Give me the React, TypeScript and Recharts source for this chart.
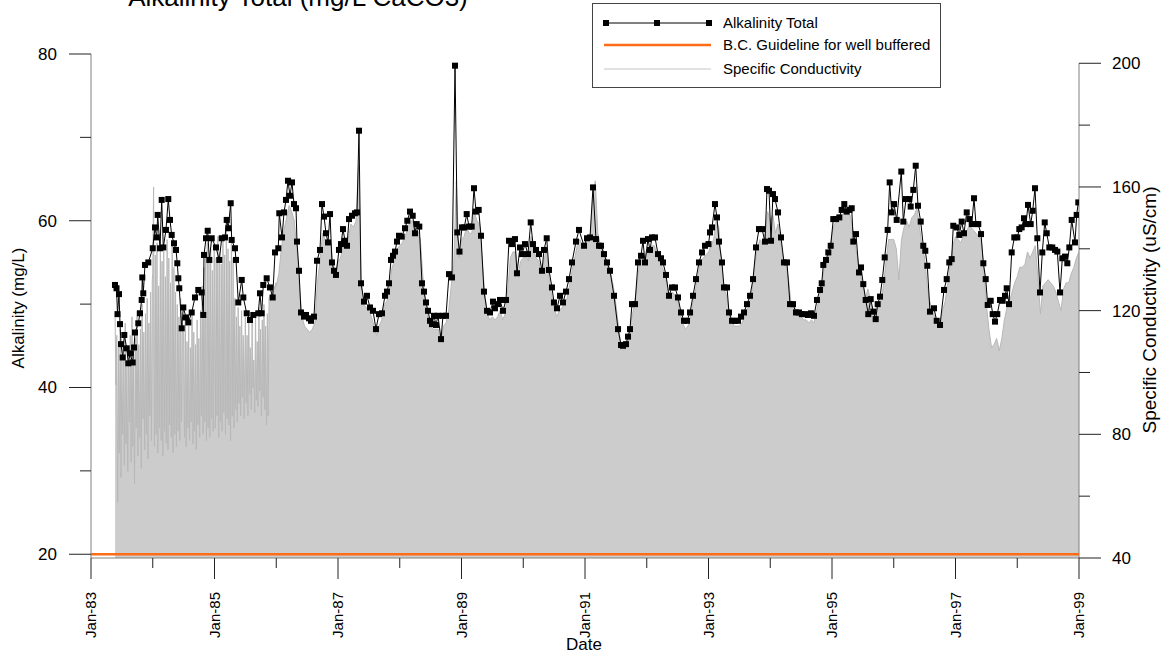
import { ComposedChart, Line, Area, XAxis, YAxis, ReferenceLine } from 'recharts';

// Alkalinity samples per year: [month position (1 = 1 Jan), mg/L]
const alk1983: [number, number][] = [
  [5.66, 52.3], [5.96, 51.9], [6.15, 48.8], [6.44, 51.2], [6.64, 47.6], [6.83, 45.2], [7.16, 43.6],
  [7.47, 46.3], [7.94, 44.7], [8.25, 42.9], [8.58, 44.1], [9.1, 43.0], [9.36, 44.8], [9.55, 46.6],
  [10.19, 47.7], [10.52, 48.9], [10.85, 50.5], [10.97, 53.2], [11.16, 51.3], [11.49, 54.7], [12.13, 55.0],
];
const alk1984: [number, number][] = [
  [1.0, 56.7], [1.44, 59.2], [1.77, 58.0], [1.96, 60.7], [2.41, 56.7], [2.74, 62.5], [3.05, 56.8],
  [3.57, 58.9], [4.02, 62.6], [4.35, 60.1], [4.68, 58.3], [5.13, 57.3], [5.52, 56.5], [5.77, 54.9],
  [5.97, 53.1], [6.16, 51.9], [6.63, 47.1], [6.94, 49.6], [7.46, 48.4], [7.91, 47.8], [8.57, 49.0],
  [9.21, 50.8], [9.85, 51.7], [10.51, 51.4], [10.82, 48.7], [10.96, 55.9], [11.35, 57.9], [11.68, 58.8],
  [11.99, 55.3], [12.46, 57.9],
];
const alk1985: [number, number][] = [
  [1.29, 56.8], [1.93, 55.3], [2.4, 57.9], [3.04, 58.0], [3.37, 60.1], [3.68, 59.1], [4.15, 62.1],
  [4.34, 57.7], [4.98, 56.7], [5.18, 55.3], [5.62, 50.2], [6.29, 52.9], [6.6, 50.8], [7.26, 48.9],
  [7.9, 48.1], [8.54, 48.7], [9.51, 48.9], [9.84, 51.3], [10.17, 48.9], [10.48, 52.3], [11.14, 53.1],
  [11.78, 52.0], [12.31, 50.8], [12.76, 56.2],
];
const alk1986: [number, number][] = [
  [1.4, 56.7], [1.59, 60.9], [2.12, 58.0], [2.51, 61.0], [2.89, 62.5], [3.28, 64.8], [3.67, 63.0],
  [4.06, 64.6], [4.45, 62.0], [4.84, 61.5], [5.03, 57.5], [5.42, 54.0], [5.81, 49.0], [6.39, 48.5],
  [6.78, 48.7], [7.36, 48.3], [7.75, 48.0], [8.33, 48.5], [8.92, 55.2], [9.5, 56.5], [9.89, 62.0],
  [10.28, 60.5], [10.67, 58.5], [11.06, 57.4], [11.45, 60.8], [11.83, 55.0], [12.22, 54.0], [12.61, 53.5],
];
const alk1987: [number, number][] = [
  [1.19, 56.5], [1.58, 57.2], [1.97, 59.0], [2.36, 57.6], [2.75, 57.0], [3.14, 60.2], [3.72, 60.6],
  [4.3, 60.9], [4.69, 61.0], [5.08, 70.8], [5.47, 52.5], [6.05, 50.3], [6.63, 51.0], [7.22, 49.6],
  [7.8, 49.2], [8.38, 47.0], [8.96, 48.8], [9.55, 48.9], [10.13, 51.0], [10.52, 51.5], [10.91, 52.5],
  [11.3, 55.3], [11.69, 55.8], [12.08, 56.3], [12.46, 57.5], [12.85, 58.2],
];
const alk1988: [number, number][] = [
  [1.38, 58.1], [2.02, 59.1], [2.47, 60.0], [2.99, 61.1], [3.52, 60.6], [3.96, 58.5], [4.29, 59.6],
  [4.8, 59.3], [5.32, 52.5], [5.71, 51.5], [6.1, 50.2], [6.49, 49.2], [6.88, 48.0], [7.27, 47.6],
  [7.66, 48.6], [8.04, 47.5], [8.43, 48.6], [9.02, 45.8], [9.4, 48.6], [9.99, 48.6], [10.57, 53.6],
  [11.15, 53.2], [11.74, 78.6], [12.18, 58.6], [12.61, 56.3],
];
const alk1989: [number, number][] = [
  [1.1, 59.2], [1.54, 59.2], [2.01, 60.8], [2.46, 59.3], [2.98, 59.3], [3.43, 63.9], [3.82, 61.1],
  [4.34, 61.3], [4.79, 58.2], [5.37, 51.5], [5.96, 49.2], [6.54, 49.0], [7.12, 50.3], [7.51, 49.5],
  [8.09, 50.0], [8.48, 50.5], [9.06, 49.2], [9.65, 50.5], [10.23, 57.6], [10.81, 57.2], [11.39, 57.8],
  [11.78, 53.7], [12.36, 56.8], [12.75, 56.0],
];
const alk1990: [number, number][] = [
  [1.34, 57.2], [1.92, 56.0], [2.45, 59.8], [2.89, 57.2], [3.48, 56.5], [4.06, 56.0], [4.64, 54.0],
  [5.03, 56.5], [5.56, 57.9], [6.0, 54.1], [6.58, 52.0], [6.97, 50.2], [7.56, 49.5], [8.14, 51.0],
  [8.72, 50.2], [9.31, 51.5], [9.89, 53.0], [10.47, 55.0], [11.25, 57.5], [11.83, 58.9], [12.81, 57.0],
];
const alk1991: [number, number][] = [
  [1.39, 57.9], [1.97, 58.0], [2.55, 64.0], [3.14, 57.8], [3.72, 57.0], [4.11, 57.0], [4.69, 56.0],
  [5.28, 55.0], [5.86, 54.0], [6.64, 51.0], [7.42, 47.0], [8.0, 45.1], [8.38, 45.0], [8.97, 45.2],
  [9.36, 46.1], [9.74, 47.0], [10.13, 50.0], [10.72, 50.0], [11.3, 55.0], [11.88, 55.8], [12.27, 57.6],
  [12.66, 55.0],
];
const alk1992: [number, number][] = [
  [1.24, 57.8], [1.63, 56.5], [2.02, 58.0], [2.6, 58.0], [3.19, 56.0], [3.77, 55.5], [4.16, 55.0],
  [4.74, 53.5], [5.32, 51.0], [5.91, 52.0], [6.49, 52.0], [7.07, 50.8], [7.66, 49.0], [8.24, 48.0],
  [8.82, 48.0], [9.41, 49.0], [9.99, 51.0], [10.57, 53.0], [11.15, 55.0], [11.74, 56.2], [12.32, 57.0],
];
const alk1993: [number, number][] = [
  [1.0, 57.2], [1.29, 58.6], [1.68, 59.2], [2.26, 62.0], [2.65, 60.4], [3.04, 57.5], [3.62, 55.0],
  [4.01, 52.0], [4.6, 52.0], [4.98, 49.0], [5.57, 48.0], [6.15, 48.0], [6.73, 48.0], [7.32, 48.5],
  [7.9, 49.0], [8.48, 50.0], [9.07, 51.0], [9.65, 53.0], [10.23, 56.8], [10.81, 59.0], [11.4, 59.0],
  [11.98, 57.5], [12.37, 63.8], [12.76, 63.6],
];
const alk1994: [number, number][] = [
  [1.15, 57.6], [1.53, 63.2], [1.92, 62.6], [2.51, 61.0], [3.09, 58.0], [3.67, 55.0], [4.25, 55.0],
  [4.84, 50.0], [5.42, 50.0], [6.0, 49.0], [6.58, 49.0], [7.17, 48.8], [7.75, 48.8], [8.33, 48.7],
  [8.91, 48.9], [9.5, 48.6], [10.08, 50.5], [10.67, 51.7], [11.0, 52.5], [11.31, 54.7], [11.83, 55.3],
  [12.28, 56.2], [12.75, 57.0],
];
const alk1995: [number, number][] = [
  [1.25, 60.2], [1.78, 60.2], [2.42, 60.4], [2.88, 61.3], [3.39, 62.0], [3.86, 61.1], [4.38, 61.3],
  [4.83, 61.5], [5.14, 57.5], [5.66, 58.4], [6.25, 53.8], [6.64, 54.4], [7.08, 52.4], [7.55, 50.5],
  [8.05, 48.8], [8.52, 50.6], [9.03, 49.1], [9.49, 48.2], [9.88, 50.0], [10.33, 50.9], [10.77, 52.9],
  [11.24, 55.6], [11.82, 58.9], [12.21, 64.6], [12.6, 61.0],
];
const alk1996: [number, number][] = [
  [1.05, 62.0], [1.57, 60.1], [2.47, 65.9], [2.86, 59.9], [3.38, 62.6], [4.02, 62.6], [4.29, 61.7],
  [4.8, 63.7], [5.27, 66.6], [5.71, 61.8], [6.24, 59.9], [6.74, 57.0], [7.13, 56.4], [7.52, 54.6],
  [8.04, 49.1], [8.82, 49.5], [9.35, 48.0], [9.99, 47.5], [10.77, 51.7], [11.29, 53.0], [11.79, 55.0],
  [12.26, 55.4], [12.57, 59.4],
];
const alk1997: [number, number][] = [
  [1.23, 59.2], [1.74, 58.3], [2.2, 59.9], [2.65, 58.5], [3.18, 61.0], [3.68, 60.2], [4.15, 59.6],
  [4.6, 62.7], [4.98, 59.6], [5.43, 59.6], [5.96, 58.4], [6.41, 54.9], [6.87, 53.0], [7.26, 49.9],
  [7.84, 50.4], [8.23, 48.8], [8.68, 47.9], [9.12, 48.8], [9.65, 50.5], [10.17, 50.4], [10.62, 51.0],
  [10.95, 51.9], [11.4, 50.0], [11.92, 56.2], [12.43, 58.0],
];
const alk1998: [number, number][] = [
  [1.01, 58.0], [1.4, 59.0], [1.86, 59.2], [2.31, 60.3], [2.7, 59.6], [3.09, 61.9], [3.61, 59.6],
  [4.0, 61.2], [4.45, 63.9], [4.9, 57.9], [5.42, 51.4], [5.87, 56.2], [6.34, 59.8], [6.73, 58.5],
  [7.23, 56.8], [7.81, 56.8], [8.34, 56.5], [8.79, 56.3], [9.31, 51.4], [9.76, 55.5], [10.28, 55.7],
  [10.73, 54.9], [11.12, 56.8], [11.58, 60.1], [12.22, 57.4], [12.55, 60.7], [12.86, 62.2],
];

const alkByYear: [number, [number, number][]][] = [
  [1983, alk1983], [1984, alk1984], [1985, alk1985], [1986, alk1986], [1987, alk1987], [1988, alk1988],
  [1989, alk1989], [1990, alk1990], [1991, alk1991], [1992, alk1992], [1993, alk1993], [1994, alk1994],
  [1995, alk1995], [1996, alk1996], [1997, alk1997], [1998, alk1998],
];

// Specific conductivity, early record: readings every 5 days (uS/cm)
const condSpikes1983 = [
  118, 96, 112, 58, 108, 74, 114, 66, 104, 80, 110, 70, 116, 77, 102, 68, 108, 84, 112, 71, 118, 76, 106,
  64, 111, 82, 120, 73, 109, 79, 114, 69, 122, 85, 113, 75, 119, 80, 124, 72, 116, 86, 126, 78, 130,
];
const condSpikes1984a = [
  132, 160, 76, 138, 80, 142, 74, 128, 82, 145, 78, 136, 73, 140, 81, 131, 77, 143, 75, 137, 83, 129, 79,
  141, 74, 134, 80, 126, 76, 122, 81, 118, 78, 124, 84, 116,
];
const condSpikes1984b = [
  112, 79, 118, 76, 110, 82, 115, 78, 108, 84, 119, 77, 113, 81, 109, 75, 117, 83, 111, 79, 120, 86, 128,
  80, 134, 84, 138, 78, 142, 82, 136, 79, 140, 85, 133, 81, 139,
];
const condSpikes1985a = [
  141, 82, 137, 86, 144, 79, 139, 84, 135, 81, 143, 87, 138, 80, 146, 85, 140, 83, 136, 78, 142, 86, 137,
  82, 124, 88, 118, 84, 121, 90, 115, 86, 120, 92, 112, 85,
];
const condSpikes1985b = [
  118, 90, 112, 86, 120, 93, 108, 88, 116, 95, 104, 87, 119, 91, 110, 89, 121, 94, 114, 86, 117, 92, 122,
  88, 115, 83, 119, 86, 124, 125, 123, 126, 127, 125, 128, 127, 129,
];
const SPIKE_STEP = 5 / 365.25;
const condSpikeRuns: [number, number[]][] = [
  [1983.39, condSpikes1983], [1984.0, condSpikes1984a], [1984.5, condSpikes1984b],
  [1985.0, condSpikes1985a], [1985.5, condSpikes1985b],
];

// Specific conductivity from 1986: 1st and 16th of each month
const cond1986 = [128, 132, 140, 146, 150, 154, 152, 149, 140, 128, 118, 115, 114, 113, 114, 116, 129, 136, 145, 143, 141, 143, 136, 132];
const cond1987 = [136, 137, 141, 140, 143, 148, 147, 149, 167, 130, 122, 121, 120, 118, 115, 112, 115, 117, 122, 123, 127, 134, 136, 140];
const cond1988 = [141, 142, 144, 146, 149, 149, 145, 146, 143, 131, 123, 118, 115, 114, 114, 114, 110, 115, 116, 120, 128, 135, 162, 137];
const cond1989 = [143, 144, 147, 145, 145, 152, 149, 148, 137, 126, 119, 117, 118, 117, 118, 120, 117, 119, 127, 137, 139, 139, 132, 136];
const cond1990 = [137, 138, 136, 144, 140, 137, 136, 132, 136, 140, 131, 125, 121, 118, 120, 121, 122, 124, 128, 133, 137, 141, 143, 141];
const cond1991 = [141, 143, 143, 156, 162, 145, 141, 140, 137, 135, 132, 128, 122, 115, 109, 107, 108, 111, 117, 121, 127, 134, 137, 137];
const cond1992 = [139, 138, 141, 141, 138, 136, 134, 132, 128, 124, 126, 125, 123, 119, 116, 114, 115, 118, 123, 127, 132, 136, 137, 138];
const cond1993 = [139, 141, 143, 149, 147, 136, 127, 125, 120, 117, 115, 115, 115, 116, 118, 120, 123, 127, 135, 140, 143, 142, 145, 152];
const cond1994 = [149, 151, 145, 148, 143, 137, 135, 131, 123, 122, 120, 118, 118, 117, 117, 116, 117, 116, 120, 124, 127, 134, 136, 139];
const cond1995 = [145, 148, 149, 149, 151, 152, 151, 151, 147, 141, 137, 132, 128, 124, 127, 123, 119, 120, 122, 123, 128, 136, 143, 143];
const cond1996 = [143, 140, 130, 143, 147, 149, 147, 150, 151, 153, 147, 141, 137, 128, 123, 120, 118, 116, 115, 120, 123, 129, 136, 141];
const cond1997 = [144, 143, 142, 144, 145, 147, 147, 146, 145, 144, 143, 134, 122, 114, 108, 109, 111, 107, 111, 117, 121, 123, 126, 129];
const cond1998 = [131, 134, 134, 135, 139, 137, 139, 141, 131, 119, 128, 129, 130, 129, 128, 126, 123, 120, 127, 129, 129, 132, 134, 137];
const cond1999 = [139];
const condSemiMonthly: [number, number[]][] = [
  [1986, cond1986], [1987, cond1987], [1988, cond1988], [1989, cond1989], [1990, cond1990],
  [1991, cond1991], [1992, cond1992], [1993, cond1993], [1994, cond1994], [1995, cond1995],
  [1996, cond1996], [1997, cond1997], [1998, cond1998], [1999, cond1999],
];

// B.C. guideline for well buffered waters
const guideYears = [1983, 1999];
const guideValue = 20;

const yearTicks = [1983, 1984, 1985, 1986, 1987, 1988, 1989, 1990, 1991, 1992, 1993, 1994, 1995, 1996, 1997, 1998, 1999];
const alkTicks = [20, 30, 40, 50, 60, 70, 80];
const condTicks = [40, 60, 80, 100, 120, 140, 160, 180, 200];

const alkData = alkByYear.flatMap(([yr, pts]) => pts.map(([m, v]) => ({ t: yr + (m - 1) / 12, v })));
const condData = [
  ...condSpikeRuns.flatMap(([start, vals]) => vals.map((v, i) => ({ t: start + i * SPIKE_STEP, v }))),
  ...condSemiMonthly.flatMap(([yr, vals]) => vals.map((v, i) => ({ t: yr + i / 24, v }))),
];
const guideData = guideYears.map((t) => ({ t, v: guideValue }));

const FONT = '"Liberation Sans", Arial, sans-serif';
const ORANGE = '#ff6c17';

function LeftTick(props: any) {
  const { x, y, payload } = props;
  const major = payload.value % 20 === 0;
  return (
    <g>
      <line x1={x - (major ? 22 : 11)} y1={y} x2={x} y2={y} stroke="#222" />
      {major && (
        <text x={x - 34} y={y} dy="0.35em" textAnchor="end" fontSize={17} fontFamily={FONT} fill="#000">
          {payload.value}
        </text>
      )}
    </g>
  );
}

function RightTick(props: any) {
  const { x, y, payload } = props;
  const major = (payload.value - 40) % 40 === 0;
  return (
    <g>
      <line x1={x} y1={y} x2={x + (major ? 22 : 11)} y2={y} stroke="#222" />
      {major && (
        <text x={x + 33} y={y} dy="0.35em" textAnchor="start" fontSize={17} fontFamily={FONT} fill="#000">
          {payload.value}
        </text>
      )}
    </g>
  );
}

function DateTick(props: any) {
  const { x, y, payload } = props;
  const yr = payload.value;
  const major = yr % 2 === 1;
  const ly = y + 34;
  return (
    <g>
      <line x1={x} y1={y} x2={x} y2={y + (major ? 21 : 10)} stroke="#222" />
      {major && (
        <text
          x={x}
          y={ly}
          dy="0.35em"
          textAnchor="end"
          fontSize={15}
          fontFamily={FONT}
          fill="#000"
          transform={`rotate(-90, ${x}, ${ly})`}
        >
          {`Jan-${String(yr).slice(2)}`}
        </text>
      )}
    </g>
  );
}

const squareDot = (p: any) => (
  <rect key={`sq-${p.index}`} x={p.cx - 3} y={p.cy - 3} width={6} height={6} fill="#000" />
);

export default function App() {
  return (
    <div style={{ position: 'absolute', left: 0, top: 0, width: 1167, height: 656, background: '#fff' }}>
      <ComposedChart width={1167} height={656} margin={{ top: 54, right: 28, bottom: 38, left: 31 }}>
        <XAxis
          type="number"
          dataKey="t"
          domain={[1983, 1999]}
          ticks={yearTicks}
          interval={0}
          allowDataOverflow
          height={60}
          tickSize={0}
          tickMargin={0}
          tickLine={false}
          tick={DateTick}
          axisLine={{ stroke: '#808080' }}
        />
        <YAxis
          yAxisId="left"
          orientation="left"
          domain={[19.55, 80]}
          ticks={alkTicks}
          interval={0}
          allowDataOverflow
          width={60}
          tickSize={0}
          tickMargin={0}
          tickLine={false}
          tick={LeftTick}
          axisLine={{ stroke: '#808080' }}
        />
        <YAxis
          yAxisId="right"
          orientation="right"
          domain={[40, 203]}
          ticks={condTicks}
          interval={0}
          allowDataOverflow
          width={60}
          tickSize={0}
          tickMargin={0}
          tickLine={false}
          tick={RightTick}
          axisLine={false}
        />
        <ReferenceLine
          yAxisId="right"
          segment={[{ x: 1999, y: 40 }, { x: 1999, y: 200 }]}
          stroke="#808080"
          ifOverflow="visible"
        />
        <Area
          yAxisId="right"
          data={condData}
          dataKey="v"
          type="linear"
          stroke="#b8b8b8"
          strokeWidth={1}
          fill="#cccccc"
          fillOpacity={1}
          isAnimationActive={false}
        />
        <Line
          yAxisId="left"
          data={guideData}
          dataKey="v"
          type="linear"
          stroke={ORANGE}
          strokeWidth={2.5}
          dot={false}
          isAnimationActive={false}
        />
        <Line
          yAxisId="left"
          data={alkData}
          dataKey="v"
          type="linear"
          stroke="#000"
          strokeWidth={1}
          dot={squareDot}
          activeDot={false}
          isAnimationActive={false}
        />
      </ComposedChart>
      <svg
        width={1167}
        height={656}
        style={{ position: 'absolute', left: 0, top: 0, pointerEvents: 'none' }}
        fontFamily={FONT}
      >
        <text x={298} y={6} textAnchor="middle" fontSize={26} fill="#000">
          Alkalinity Total (mg/L CaCO3)
        </text>
        <text x={18} y={308} dy="0.35em" textAnchor="middle" fontSize={17} fill="#000" transform="rotate(-90, 18, 308)">
          Alkalinity (mg/L)
        </text>
        <text x={1149} y={310} dy="0.35em" textAnchor="middle" fontSize={19} fill="#000" transform="rotate(-90, 1149, 310)">
          Specific Conductivity (uS/cm)
        </text>
        <text x={584} y={650} textAnchor="middle" fontSize={17} fill="#000">
          Date
        </text>
        <g>
          <rect x={592.5} y={3.5} width={348} height={84} fill="#fff" stroke="#444" />
          <line x1={604} y1={23} x2={711} y2={23} stroke="#000" />
          <rect x={603} y={20} width={6} height={6} fill="#000" />
          <rect x={654} y={20} width={6} height={6} fill="#000" />
          <rect x={706} y={20} width={6} height={6} fill="#000" />
          <text x={723} y={23} dy="0.35em" fontSize={15} fill="#000">Alkalinity Total</text>
          <line x1={604} y1={45} x2={711} y2={45} stroke={ORANGE} strokeWidth={2.5} />
          <text x={723} y={45} dy="0.35em" fontSize={15} fill="#000">B.C. Guideline for well buffered</text>
          <line x1={604} y1={69} x2={711} y2={69} stroke="#c4c4c4" />
          <text x={723} y={69} dy="0.35em" fontSize={15} fill="#000">Specific Conductivity</text>
        </g>
      </svg>
    </div>
  );
}
